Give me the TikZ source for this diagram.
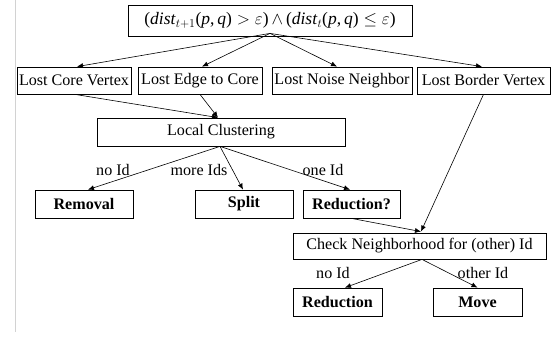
\documentclass[tikz,border=0pt]{standalone}
\usepackage{fontspec}
\setmainfont{Liberation Serif}
\usetikzlibrary{arrows.meta,calc}
\begin{document}
\begin{tikzpicture}[x=1pt,y=-1pt,
  box/.style={draw,line width=0.8pt,inner sep=0pt,minimum height=27pt,font=\fontsize{16.1}{18}\selectfont},
  bbox/.style={box,font=\fontsize{16.1}{18}\selectfont\bfseries},
  lbl/.style={inner sep=0pt,font=\fontsize{16.1}{18}\selectfont},
  arr/.style={line width=0.6pt,-{Latex[length=6pt,width=5pt]}}]
\useasboundingbox (0,0) rectangle (555,337);
\draw[gray!35,line width=1pt] (15,0) -- (15,332);
\node[box,minimum width=284pt,minimum height=31pt,font=\fontsize{17.5}{20}\selectfont] (top) at (270,20.5)
  {(\textit{dist}$_{t+1}$(\textit{p},\,\textit{q})\;$>$\;$\varepsilon$)\,$\wedge$\,(\textit{dist}$_{t}$(\textit{p},\,\textit{q})\;$\leq$\;$\varepsilon$)};
\node[box,minimum width=114pt] (lcv) at (74,80.5) {Lost Core Vertex};
\node[box,minimum width=124pt] (lec) at (200,80.5) {Lost Edge to Core};
\node[box,minimum width=140pt] (lnn) at (342,80.5) {Lost Noise Neighbor};
\node[box,minimum width=133pt] (lbv) at (483.5,80.5) {Lost Border Vertex};
\node[box,minimum width=248pt,minimum height=28pt] (lc) at (221,132) {Local Clustering};
\node[bbox,minimum width=98pt,minimum height=28pt] (rem) at (84,204) {Removal};
\node[bbox,minimum width=98pt,minimum height=28pt] (spl) at (244,204) {Split};
\node[bbox,minimum width=97pt,minimum height=28pt] (redq) at (351.5,204) {Reduction?};
\node[box,minimum width=253pt,minimum height=26pt] (chk) at (419.5,246) {Check Neighborhood for (other) Id};
\node[bbox,minimum width=89pt,minimum height=28pt] (red) at (337.5,302) {Reduction};
\node[bbox,minimum width=89pt,minimum height=28pt] (mov) at (477.5,302) {Move};
\node[lbl] (l1) at (113,170) {no Id};
\node[lbl] (l2) at (199,170) {more Ids};
\node[lbl] (l3) at (323,170) {one Id};
\node[lbl] (l4) at (333,273) {no Id};
\node[lbl] (l5) at (483,273) {other Id};
\coordinate (tp) at ($(top.south)+(0,-3)$);
\draw[arr] (tp) -- ($(lcv.north)+(3,0)$);
\draw[arr] (tp) -- ($(lec.north)+(2,0)$);
\draw[arr] (tp) -- ($(lnn.north)+(-5,0)$);
\draw[arr] (tp) -- ($(lbv.north)+(-1.5,0)$);
\draw[arr] ($(lcv.south)+(1,0)$) -- ($(lc.north)+(-3,0)$);
\draw[arr] (lec.south) -- ($(lc.north)+(-3,0)$);
\draw[arr] (lbv.south) -- ($(chk.north)+(1.5,-1)$);
\draw[arr] (redq.south) -- ($(chk.north)+(1.5,-1)$);
\draw[arr] ($(lc.south)+(-1,0)$) -- ($(rem.north)+(4,0)$);
\draw[arr] ($(lc.south)+(-1,0)$) -- ($(spl.north)+(-1,0)$);
\draw[arr] ($(lc.south)+(-1,0)$) -- ($(redq.north)+(-1.5,0)$);
\draw[arr] ($(chk.south)+(2.5,0)$) -- ($(red.north)+(7.5,0)$);
\draw[arr] ($(chk.south)+(2.5,0)$) -- (mov.north);
\end{tikzpicture}
\end{document}
